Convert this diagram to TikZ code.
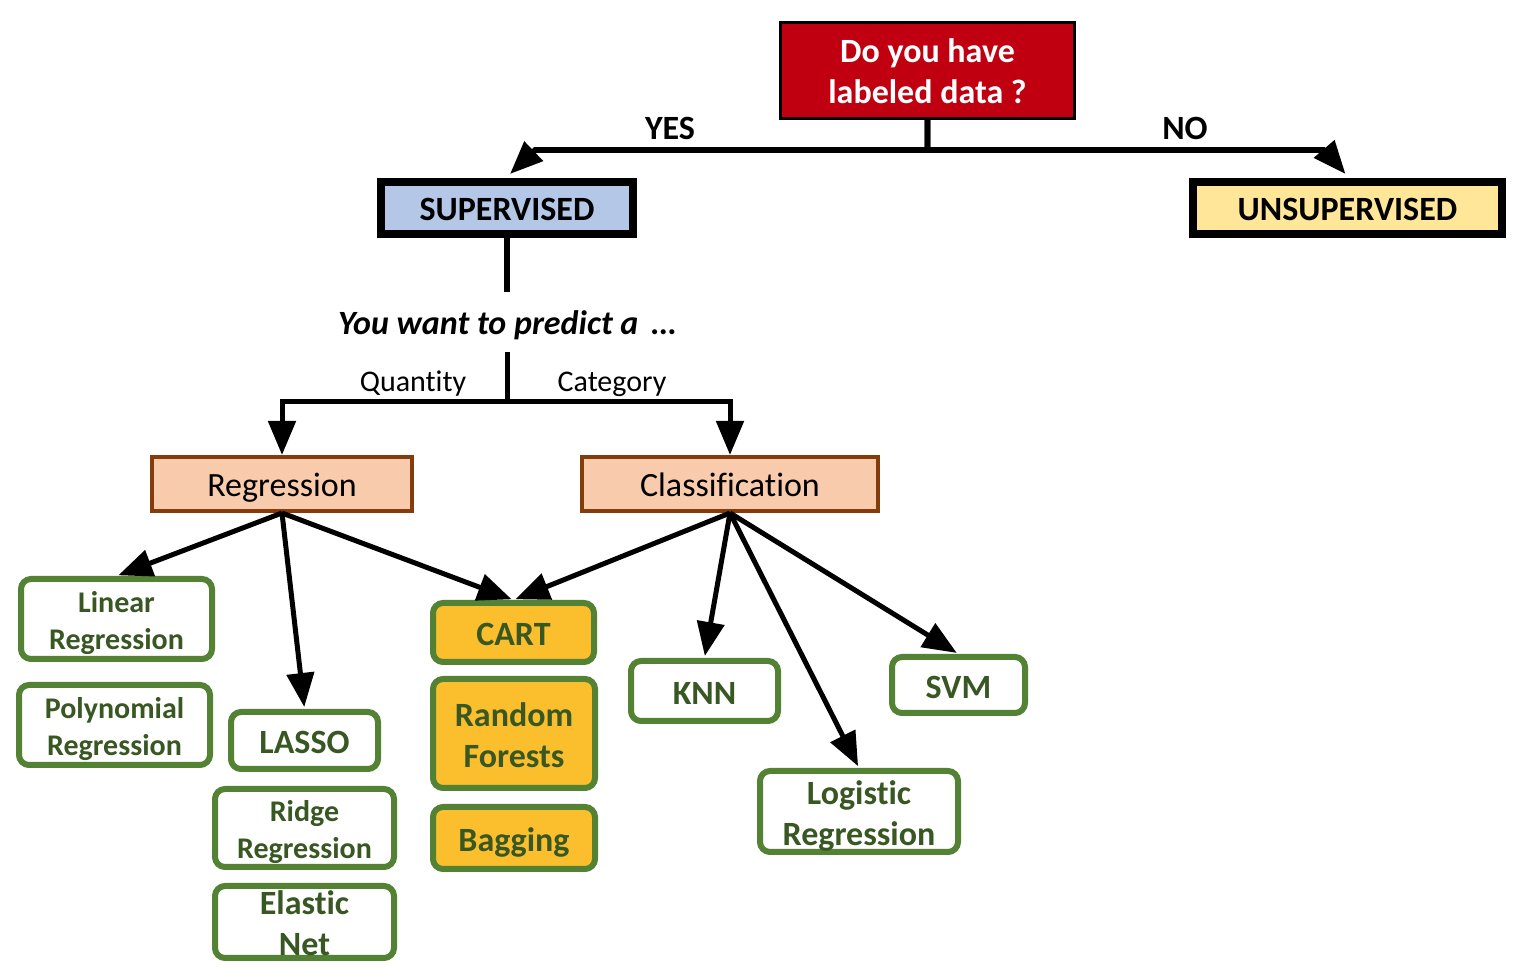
\documentclass[tikz,border=0pt]{standalone}
\usepackage{fontspec}
\setmainfont{Carlito}[Ligatures=NoCommon]
\usetikzlibrary{arrows.meta}
\definecolor{qred}{HTML}{C00010}
\definecolor{supblue}{HTML}{B4C7E7}
\definecolor{unsupyel}{HTML}{FFE699}
\definecolor{peach}{HTML}{F8CBAD}
\definecolor{brownb}{HTML}{843C0C}
\definecolor{greenb}{HTML}{548235}
\definecolor{greent}{HTML}{385723}
\definecolor{gold}{HTML}{FBBF2D}
\newcommand\twol[2]{\begin{tabular}[b]{@{}c@{}}#1\\#2\end{tabular}}
\begin{document}
\begin{tikzpicture}[x=0.5pt,y=-0.5pt,
  bigb/.style={font=\fontsize{17}{20.5}\selectfont\bfseries},
  qbox/.style={draw=black,line width=1.5pt,fill=qred,text=white,bigb,inner sep=0pt,text height=33.5pt,text depth=0pt},
  tbox/.style={draw=black,line width=4pt,bigb,inner sep=0pt,text height=13pt,text depth=0pt},
  pbox/.style={draw=brownb,line width=2pt,fill=peach,font=\fontsize{17}{20.5}\selectfont,inner sep=0pt,text height=13pt,text depth=0pt},
  gbox/.style={draw=greenb,line width=3pt,rounded corners=5pt,fill=white,text=greent,inner sep=0pt,font=\fontsize{17}{20.5}\selectfont\bfseries},
  s17/.style={text height=13.5pt,text depth=0pt},
  d17/.style={text height=34pt,text depth=0pt},
  d15/.style={font=\fontsize{15}{18.5}\selectfont\bfseries,text height=30.7pt,text depth=0pt},
  obox/.style={gbox,fill=gold},
  topconn/.style={line width=2.8pt,-{Triangle[length=16.5pt,width=13pt]}},
  topline/.style={line width=2.8pt},
  conn/.style={line width=2.5pt,-{Triangle[length=17pt,width=13.5pt]},shorten >=1pt},
  cline/.style={line width=2.5pt},
  lbl/.style={font=\fontsize{15}{18}\selectfont,inner sep=0pt}
]
\useasboundingbox (0,0) rectangle (1528,972);

% top
\node[qbox,minimum width=147pt,minimum height=48pt] (q) at (927.5,70.5) {\twol{Do you have}{labeled data ?}};
\node[tbox,fill=supblue,minimum width=126pt,minimum height=26pt] (sup) at (507,208) {SUPERVISED};
\node[tbox,fill=unsupyel,minimum width=154.5pt,minimum height=26pt] (unsup) at (1347.5,208) {UNSUPERVISED};
\node[bigb,inner sep=0pt] (yes) at (670,128) {YES};
\node[bigb,inner sep=0pt] (no) at (1185,128) {NO};
\coordinate (yb) at (535,150);
\coordinate (nb) at (1325,150);
\draw[topconn] (q.south) |- (yb) -- ([xshift=1.5pt,yshift=2pt]sup.north);
\draw[topconn] (q.south) |- (nb) -- ([xshift=-1pt,yshift=2pt]unsup.north);

% predict
\node[font=\fontsize{17}{20.5}\selectfont\bfseries\itshape,inner sep=0pt] (pred) at (507,325) {You want to predict a \,…};
\coordinate (p1) at (507,292);
\coordinate (p2) at (507,352);
\draw[topline] (sup.south) -- (p1);
\coordinate (split) at (507,402);
\node[lbl] (qty) at (413,384) {Quantity};
\node[lbl] (cat) at (612,384) {Category};

\node[pbox,minimum width=130pt,minimum height=27pt] (reg) at (282,484) {Regression};
\node[pbox,minimum width=148pt,minimum height=27pt] (cls) at (730,484) {Classification};
\draw[cline] (p2) -- (split);
\draw[conn,shorten >=0pt] (split) -| (reg.north);
\draw[conn,shorten >=0pt] (split) -| (cls.north);

% leaves
\node[gbox,d15,minimum width=95.5pt,minimum height=40pt] (lin) at (116.5,619) {\twol{Linear}{Regression}};
\node[gbox,d15,minimum width=95.5pt,minimum height=40pt] (poly) at (114.5,725) {\twol{Polynomial}{Regression}};
\node[gbox,s17,minimum width=73.5pt,minimum height=28.5pt] (lasso) at (304.5,740.5) {LASSO};
\node[gbox,d15,minimum width=89.5pt,minimum height=39pt] (ridge) at (304.5,828) {\twol{Ridge}{Regression}};
\node[gbox,d17,minimum width=89.5pt,minimum height=36pt] (elastic) at (304.5,922) {\twol{Elastic}{Net}};
\node[obox,s17,minimum width=80.5pt,minimum height=29.5pt] (cart) at (513.5,632.5) {CART};
\node[obox,d17,minimum width=81pt,minimum height=54.5pt] (rf) at (514,733.5) {\twol{Random}{Forests}};
\node[obox,s17,minimum width=81pt,minimum height=31pt] (bag) at (514,838) {Bagging};
\node[gbox,s17,minimum width=73.5pt,minimum height=30pt] (knn) at (704.5,691) {KNN};
\node[gbox,d17,minimum width=99pt,minimum height=40.5pt] (log) at (859,811.5) {\twol{Logistic}{Regression}};
\node[gbox,s17,minimum width=66.5pt,minimum height=28pt] (svm) at (958.5,685) {SVM};

\draw[conn] (reg.south) -- (lin.north);
\draw[conn] (reg.south) -- (lasso.north);
\draw[conn] (reg.south) -- (cart.north);
\draw[conn] (cls.south) -- (cart.north);
\draw[conn] (cls.south) -- (knn.north);
\draw[conn] (cls.south) -- (log.north);
\draw[conn] (cls.south) -- (svm.north);
\end{tikzpicture}
\end{document}
